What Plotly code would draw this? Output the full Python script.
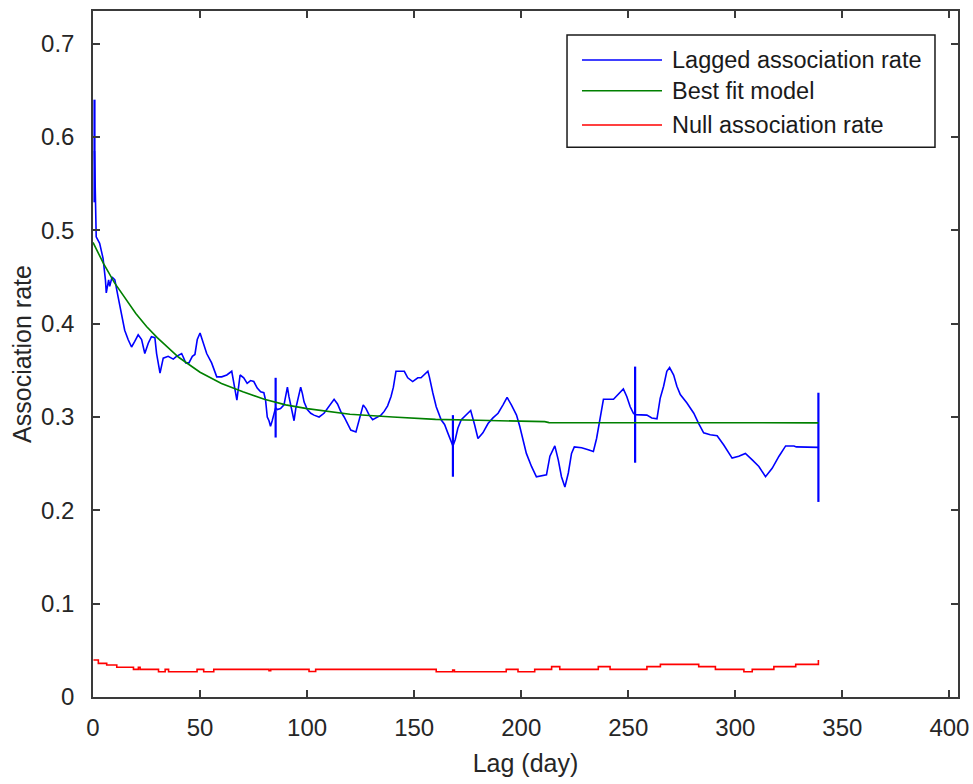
import plotly.graph_objects as go

# ---------------- data ----------------
lag_blue = [0.7, 1.5, 3.1, 4.7, 5.8, 6.2, 7.3, 7.8, 8.9, 10.2, 11.7, 13.3, 14.8, 16.4, 18.0,
            19.5, 21.1, 22.7, 24.2, 25.8, 27.3, 28.9, 29.7, 31.3, 32.8, 35.1, 37.5, 39.0, 41.4,
            42.2, 43.3, 44.8, 46.4, 47.6, 48.7, 50.0, 51.5, 53.1, 55.4, 57.8, 60.1, 62.5, 64.8,
            66.1, 67.2, 68.7, 70.4, 72.0, 73.6, 75.1, 76.7, 78.3, 79.8, 80.6, 81.4, 82.2, 82.9,
            83.7, 84.5, 85.3, 86.1, 87.6, 89.2, 90.0, 90.8, 91.5, 92.3, 93.1, 93.9, 94.7, 95.5,
            96.2, 97.0, 97.8, 98.6, 100.1, 101.7, 103.2, 105.6, 107.9, 110.3, 112.6, 114.2,
            115.7, 117.3, 118.9, 120.4, 122.8, 123.9, 125.1, 126.2, 127.5, 129.0, 130.6, 132.9,
            134.5, 136.0, 137.6, 139.2, 140.3, 141.5, 145.4, 147.0, 149.3, 151.7, 153.2, 156.4,
            157.1, 158.7, 160.3, 162.6, 164.2, 165.7, 166.8, 168.1, 169.2, 170.4, 172.0, 174.3,
            176.4, 178.2, 179.8, 182.1, 184.5, 186.8, 189.2, 191.5, 193.4, 195.4, 197.8, 199.3,
            200.9, 202.4, 204.8, 207.1, 211.8, 213.4, 215.7, 217.3, 218.8, 220.4, 222.0, 223.5,
            224.8, 228.2, 231.3, 233.7, 235.2, 236.3, 238.4, 243.1, 245.4, 247.7, 249.3, 250.9,
            252.4, 253.2, 258.7, 261.0, 263.4, 264.9, 266.5, 268.0, 269.3, 271.2, 272.7, 274.3,
            277.4, 280.6, 282.9, 285.2, 288.3, 291.5, 294.6, 297.0, 298.5, 301.6, 304.7, 307.9,
            311.0, 314.1, 317.2, 320.4, 323.5, 327.4, 328.5, 338.8]
rate_blue = [0.585, 0.493, 0.486, 0.470, 0.447, 0.433, 0.447, 0.440, 0.450, 0.447, 0.429, 0.411,
             0.393, 0.383, 0.375, 0.381, 0.388, 0.383, 0.368, 0.379, 0.386, 0.385, 0.368, 0.347,
             0.363, 0.365, 0.362, 0.365, 0.368, 0.364, 0.358, 0.358, 0.365, 0.367, 0.383, 0.390,
             0.379, 0.368, 0.358, 0.343, 0.343, 0.345, 0.349, 0.334, 0.318, 0.345, 0.342, 0.336,
             0.339, 0.338, 0.331, 0.327, 0.326, 0.318, 0.300, 0.296, 0.290, 0.296, 0.304, 0.310,
             0.308, 0.309, 0.313, 0.324, 0.332, 0.322, 0.314, 0.306, 0.296, 0.309, 0.317, 0.324,
             0.332, 0.325, 0.316, 0.308, 0.304, 0.302, 0.300, 0.304, 0.312, 0.319, 0.314, 0.306,
             0.300, 0.292, 0.286, 0.284, 0.293, 0.304, 0.313, 0.309, 0.302, 0.297, 0.300, 0.302,
             0.306, 0.312, 0.322, 0.332, 0.349, 0.349, 0.342, 0.338, 0.342, 0.342, 0.349, 0.343,
             0.326, 0.311, 0.297, 0.292, 0.283, 0.277, 0.269, 0.276, 0.288, 0.297, 0.302, 0.307,
             0.292, 0.277, 0.283, 0.293, 0.299, 0.304, 0.313, 0.321, 0.313, 0.302, 0.290, 0.275,
             0.261, 0.247, 0.236, 0.238, 0.258, 0.269, 0.254, 0.236, 0.225, 0.240, 0.261, 0.268,
             0.267, 0.265, 0.263, 0.277, 0.293, 0.319, 0.319, 0.324, 0.330, 0.322, 0.311, 0.304,
             0.3025, 0.302, 0.299, 0.298, 0.320, 0.333, 0.349, 0.353, 0.345, 0.333, 0.324, 0.315,
             0.304, 0.293, 0.283, 0.281, 0.280, 0.270, 0.261, 0.256, 0.258, 0.261, 0.254, 0.247,
             0.236, 0.245, 0.258, 0.269, 0.269, 0.268, 0.2675]

# jackknife error bars shown at a few lags
lag_err = [0.7, 85.3, 168.1, 253.2, 338.8]
rate_err = [0.585, 0.310, 0.269, 0.3025, 0.2675]
half_err = [0.055, 0.032, 0.033, 0.0515, 0.0585]

lag_fit = [0, 5, 10, 15, 20, 25, 30, 40, 50, 60, 70, 80, 90, 100, 120, 140, 160, 180, 200,
           211, 213, 250, 300, 338.8]
rate_fit = [0.487, 0.464, 0.444, 0.427, 0.411, 0.397, 0.385, 0.364, 0.348, 0.336, 0.327,
            0.319, 0.313, 0.309, 0.303, 0.300, 0.2975, 0.2965, 0.2955, 0.295, 0.294, 0.2937,
            0.2937, 0.2937]

lag_null = [0.2, 2.5, 6.4, 11.1, 18.9, 21.2, 22.0, 30.6, 33.7, 35.3, 48.6, 51.7, 56.4, 82.2,
            83.0, 100.9, 104.0, 160.3, 168.0, 168.8, 193.0, 198.5, 206.3, 214.2, 218.0, 236.0,
            241.5, 258.7, 265.0, 282.9, 290.7, 304.0, 307.9, 318.0, 328.2, 338.0, 338.8]
rate_null = [0.0397, 0.036, 0.0343, 0.0318, 0.0296, 0.0318, 0.0296, 0.0271, 0.0296, 0.0271,
             0.0296, 0.0271, 0.0296, 0.0282, 0.0296, 0.0274, 0.0296, 0.0271, 0.0290, 0.0271,
             0.0296, 0.0271, 0.0296, 0.0325, 0.0296, 0.0325, 0.0296, 0.0325, 0.0350, 0.0325,
             0.0296, 0.0271, 0.0296, 0.0325, 0.0350, 0.0350, 0.0397]

series_names = ["Lagged association rate", "Best fit model", "Null association rate"]
x_ticks = [0, 50, 100, 150, 200, 250, 300, 350, 400]
y_ticks = [0, 0.1, 0.2, 0.3, 0.4, 0.5, 0.6, 0.7]
y_tick_text = ["0", "0.1", "0.2", "0.3", "0.4", "0.5", "0.6", "0.7"]

# ---------------- style ----------------
BLUE, GREEN, RED = "#0000FF", "#008000", "#FF0000"
AXIS = "#3a3a3a"
FONT = "Liberation Sans, Arial, sans-serif"
LW = 1.6

fig = go.Figure()
fig.add_trace(go.Scatter(x=lag_blue, y=rate_blue, mode="lines", name=series_names[0],
                         line=dict(color=BLUE, width=LW), showlegend=False))
fig.add_trace(go.Scatter(x=lag_err, y=rate_err, mode="markers", showlegend=False,
                         marker=dict(color=BLUE, size=1),
                         error_y=dict(type="data", array=half_err, width=0,
                                      color=BLUE, thickness=LW + 0.6)))
fig.add_trace(go.Scatter(x=lag_fit, y=rate_fit, mode="lines", name=series_names[1],
                         line=dict(color=GREEN, width=LW), showlegend=False))
fig.add_trace(go.Scatter(x=lag_null, y=rate_null, mode="lines", name=series_names[2],
                         line=dict(color=RED, width=LW, shape="hv"), showlegend=False))

# ---------------- manual MATLAB-style legend ----------------
lx0, lx1, ly0, ly1 = 0.548, 0.9734, 0.8013, 0.965
fig.add_shape(type="rect", xref="paper", yref="paper", x0=lx0, x1=lx1, y0=ly0, y1=ly1,
              line=dict(color="#1a1a1a", width=1.5), fillcolor="white", layer="above")
row_y = [0.9286, 0.8838, 0.8338]
for name, col, yy in zip(series_names, [BLUE, GREEN, RED], row_y):
    fig.add_shape(type="line", xref="paper", yref="paper", x0=0.5653, x1=0.6578, y0=yy, y1=yy,
                  line=dict(color=col, width=LW), layer="above")
    fig.add_annotation(xref="paper", yref="paper", x=0.6675, y=yy, text=name, showarrow=False,
                       xanchor="left", yanchor="middle",
                       font=dict(family=FONT, size=23.5, color="#1a1a1a"))

axis_common = dict(showline=True, linecolor=AXIS, linewidth=1.5, mirror="ticks",
                   ticks="inside", ticklen=7, tickcolor=AXIS, tickwidth=1.5,
                   showgrid=False, zeroline=False,
                   tickfont=dict(family=FONT, size=24, color="#262626"))

fig.update_xaxes(range=[0, 404], tickvals=x_ticks, ticklabelstandoff=8,
                 title=dict(text="Lag (day)", standoff=15,
                            font=dict(family=FONT, size=25, color="#262626")),
                 **axis_common)
fig.update_yaxes(range=[0, 0.735], tickvals=y_ticks, ticktext=y_tick_text, ticklabelstandoff=12,
                 title=dict(text="Association rate", standoff=2,
                            font=dict(family=FONT, size=25, color="#262626")),
                 **axis_common)

fig.update_layout(width=973, height=784, margin=dict(l=93, r=15, t=11, b=87, autoexpand=False),
                  paper_bgcolor="white", plot_bgcolor="white", showlegend=False)

fig.write_html("out.html")
